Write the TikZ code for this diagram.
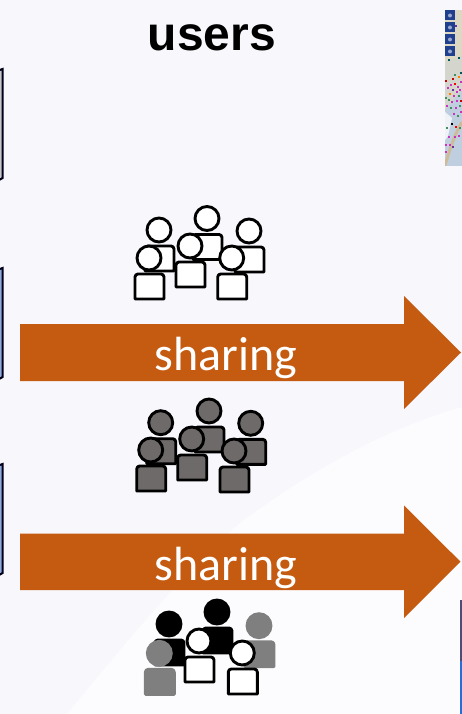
\documentclass[tikz,border=0pt]{standalone}
\usepackage{fontspec}
\setmainfont{Liberation Sans}
\newfontfamily\calib{Carlito}
\definecolor{bgc}{HTML}{F7F7FC}
\definecolor{swoosh}{HTML}{FCFCFE}
\definecolor{orng}{HTML}{C55A11}
\definecolor{grayp}{HTML}{6E6A6A}
\definecolor{graym}{HTML}{7F7F7F}
\definecolor{barfill}{HTML}{8FAADC}
\definecolor{btn}{HTML}{1F3F8F}
\definecolor{mapsea}{HTML}{BFCFE0}
\definecolor{mapland}{HTML}{DDD8C4}
\definecolor{maptan}{HTML}{CDBB9A}
\definecolor{mapgrn}{HTML}{3F8F5F}
\definecolor{mapmag}{HTML}{D030C0}
\definecolor{mapvio}{HTML}{6A2FA0}
\newcommand{\person}[4]{%
  \fill[#3,draw=#4,line width=2.9pt,line join=round]
    (#1-14,#2+41) [rounded corners=3pt] -- (#1-14,#2+16) -- (#1+15,#2+16) [sharp corners] -- (#1+15,#2+41) -- cycle;
  \fill[#3,draw=#4,line width=2.9pt] (#1,#2) circle (12);
}
\tikzset{
  bararrow/.style={fill=orng,draw=none},
  sharelabel/.style={font=\calib\fontsize{48}{52}\selectfont,text=white,inner sep=0pt},
  sidebar/.style={draw=black!90!blue,line width=2pt,line join=miter}
}
\begin{document}
\begin{tikzpicture}[x=1pt,y=-1pt]
\useasboundingbox (0,0) rectangle (462,714);
\fill[bgc] (0,0) rectangle (462,714);
% background swoosh
\fill[swoosh] (67,714) .. controls (133,633) and (200,555) .. (240,523) .. controls (300,478) and (380,430) .. (462,407) -- (462,714) -- cycle;
% map
\begin{scope}
\clip (445,10) rectangle (462,166);
\fill[mapsea] (445,10) rectangle (462,166);
\fill[mapland] (445,10) rectangle (462,62);
\fill[mapland!70!mapsea] (445,62) -- (462,56) -- (462,90) -- (445,110) -- cycle;
\fill[white!75!mapsea] (445,112) -- (452,118) -- (448,136) -- (445,140) -- cycle;
\draw[maptan,line width=3pt] (444,168) .. controls (450,150) and (454,135) .. (462,122);
\foreach \px/\py/\pc in {
 456/26/mapvio,449/60/teal!70!black,459/58/teal!70!black,461/73/teal!70!black,455/75/mapgrn,
 446/81/red!80!black,453/79/red!80!black,459/77/orange,451/85/mapmag,455/84/red,458/87/mapmag,461/82/mapmag,
 448/88/mapmag,453/90/mapvio,457/92/mapmag,460/90/mapmag,450/94/orange,454/96/mapmag,459/96/mapgrn,
 446/98/mapgrn,449/100/mapgrn,452/102/mapmag,457/101/mapmag,461/101/red!80!black,
 447/106/mapmag,451/108/mapgrn,456/108/mapmag,460/106/mapgrn,454/114/mapmag,458/116/mapgrn,461/112/mapmag,
 452/124/black,447/128/mapgrn,456/127/red,460/128/mapgrn,449/137/mapmag,455/137/mapmag,459/136/mapmag,
 450/145/mapmag,446/152/mapmag,453/147/mapvio,446/145/mapmag}
 {\fill[\pc] (\px-1.2,\py-1.2) rectangle (\px+1.2,\py+1.2);}
\end{scope}
\foreach \yy in {15.5,27.5,39.5,51.5}{\fill[btn] (445,\yy-5) rectangle (455,\yy+5);
  \fill[white!55!btn] (450,\yy) circle (2);}
% side bars
\draw[sidebar,fill=bgc!60!gray] (-6,72) -- (2.6,69) -- (2.6,178) -- (-6,183);
\draw[sidebar,fill=barfill] (-6,271) -- (2.6,268) -- (2.6,377) -- (-6,382);
\draw[sidebar,fill=barfill] (-6,467) -- (2.6,464) -- (2.6,573) -- (-6,578);
% bottom right bar
\fill[black!60!blue!40!gray] (460,600) rectangle (462,661);
\fill[blue!60!cyan!70!gray] (460,661) rectangle (462,714);
% title
\node[font=\bfseries\fontsize{48}{52}\selectfont,inner sep=0pt] (title) at (212,38) {users};
% groups
\person{159}{230}{white}{black}\person{207}{218.5}{white}{black}\person{249}{231}{white}{black}
\person{149}{258}{white}{black}\person{190}{246}{white}{black}\person{231.7}{258}{white}{black}
\person{160.7}{422.7}{grayp}{black}\person{209}{411}{grayp}{black}\person{250.7}{423.3}{grayp}{black}
\person{150.7}{450}{grayp}{black}\person{191.7}{439}{grayp}{black}\person{234}{451}{grayp}{black}
\person{169}{624}{black}{black}\person{217}{612}{black}{black}\person{259}{625.7}{graym}{graym}
\person{159.3}{653.3}{graym}{graym}\person{199}{641}{white}{black}\person{242.3}{653}{white}{black}
% arrows
\fill[bararrow] (20,324) -- (404,324) -- (404,296) -- (461,352.5) -- (404,409) -- (404,381) -- (20,381) -- cycle;
\node[sharelabel] (s1) at (226,357.5) {sharing};
\fill[bararrow] (20,533.5) -- (404,533.5) -- (404,505.5) -- (460.5,561.7) -- (404,618) -- (404,590) -- (20,590) -- cycle;
\node[sharelabel] (s2) at (226,567.5) {sharing};
\end{tikzpicture}
\end{document}
